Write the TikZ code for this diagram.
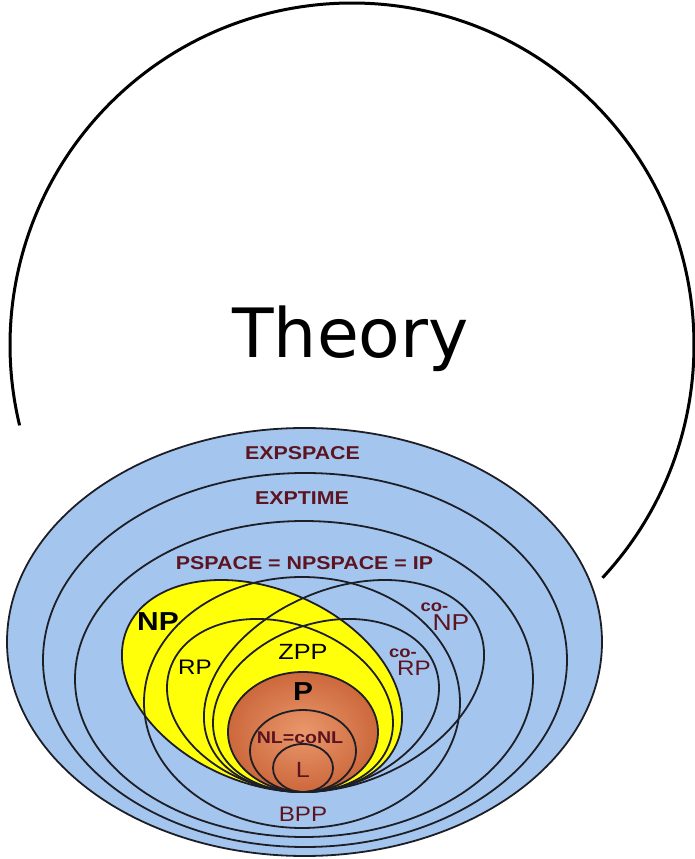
\documentclass[tikz,border=0pt]{standalone}
\usepackage{fontspec}
\setmainfont{Liberation Sans}
\newfontfamily\theoryfont{DejaVu Sans}
\newfontfamily\classfont[FakeStretch=1.15]{Liberation Sans}
\usepackage{tikz}
\usetikzlibrary{positioning}
\definecolor{spaceblue}{RGB}{164,198,238}
\definecolor{npyellow}{RGB}{255,255,10}
\definecolor{plight}{RGB}{233,152,108}
\definecolor{pdark}{RGB}{204,104,60}
\definecolor{classred}{RGB}{92,20,32}
\definecolor{edgegray}{RGB}{30,30,38}

\begin{document}
\begin{tikzpicture}[x=0.5pt, y=0.5pt,
    outline/.style={draw=edgegray, line width=0.9pt},
    theoryline/.style={draw=black, line width=1.5pt},
    theorylabel/.style={font=\theoryfont\fontsize{34}{40}\selectfont, inner sep=0pt},
    bigclass/.style={font=\classfont\fontsize{9.3}{10}\selectfont\bfseries, text=classred, inner sep=0pt},
    boldclass/.style={font=\classfont\fontsize{13}{14}\selectfont\bfseries, text=black, inner sep=0pt},
    plainclass/.style={font=\classfont\fontsize{10.5}{12}\selectfont, text=black, inner sep=0pt},
    redclass/.style={plainclass, text=classred},
    coprefix/.style={font=\classfont\fontsize{8}{9}\selectfont\bfseries, text=classred, inner sep=0pt}
]
\useasboundingbox (0,0) rectangle (695,859);

% the Theory circle, cut where the picture sits
\coordinate (theorycenter) at (352,514);
\draw[theoryline] (theorycenter) ++(-42.9:342) arc[start angle=-42.9, end angle=193.6, radius=342];
\node[theorylabel, anchor=base] (theory) at (350.5,501) {Theory};

% fills
\fill[spaceblue] (304.5,217) ellipse [x radius=297.5, y radius=214];
\fill[npyellow, rotate around={-23:(262,173)}] (262,173) ellipse [x radius=146.5, y radius=96.9];
\shade[inner color=plight, outer color=pdark] (303,127) ellipse [x radius=75, y radius=60];

% outlines
\draw[outline] (304.5,217) ellipse [x radius=297.5, y radius=214];
\draw[outline] (305,199) ellipse [x radius=262, y radius=187];
\draw[outline] (304,180) ellipse [x radius=229, y radius=158];
\draw[outline] (302,156.5) ellipse [x radius=158, y radius=125.5];
\draw[outline, rotate around={-23:(262,173)}] (262,173) ellipse [x radius=146.5, y radius=96.9];
\draw[outline, rotate around={23:(344,173)}] (344,173) ellipse [x radius=146.5, y radius=96.9];
\draw[outline, rotate around={-18.5:(280,153.5)}] (280,153.5) ellipse [x radius=115.9, y radius=82.6];
\draw[outline, rotate around={18.5:(326,153.5)}] (326,153.5) ellipse [x radius=115.9, y radius=82.6];
\draw[outline] (303,127) ellipse [x radius=75, y radius=60];
\draw[outline] (303,108) ellipse [x radius=53, y radius=41];
\draw[outline] (303,91) ellipse [x radius=30, y radius=24];

% labels
\node[bigclass] (expspace) at (302.5,406) {EXPSPACE};
\node[bigclass] (exptime) at (302,361) {EXPTIME};
\node[bigclass] (pspace) at (304.5,296) {PSPACE = NPSPACE = IP};
\node[boldclass] (np) at (158,237) {NP};
\node[plainclass] (rp) at (195,192) {RP};
\node[plainclass, font=\classfont\fontsize{11}{12}\selectfont] (zpp) at (303,207) {ZPP};
\node[boldclass] (p) at (303,167) {P};
\node[bigclass, font=\classfont\fontsize{8.5}{9}\selectfont\bfseries] (nlconl) at (300,121) {NL=coNL};
\node[redclass, font=\classfont\fontsize{11}{12}\selectfont] (l) at (303,89) {L};
\node[redclass] (bpp) at (303,45) {BPP};
\node[redclass, font=\classfont\fontsize{11.5}{12}\selectfont] (conp) at (451,236) {NP};
\node[coprefix, above right=1.5pt and -6pt of conp.north west, anchor=south west] (conp co) {co-};
\node[redclass] (corp) at (414,191) {RP};
\node[coprefix, above right=1pt and -4pt of corp.north west, anchor=south west] (corp co) {co-};
\end{tikzpicture}
\end{document}
